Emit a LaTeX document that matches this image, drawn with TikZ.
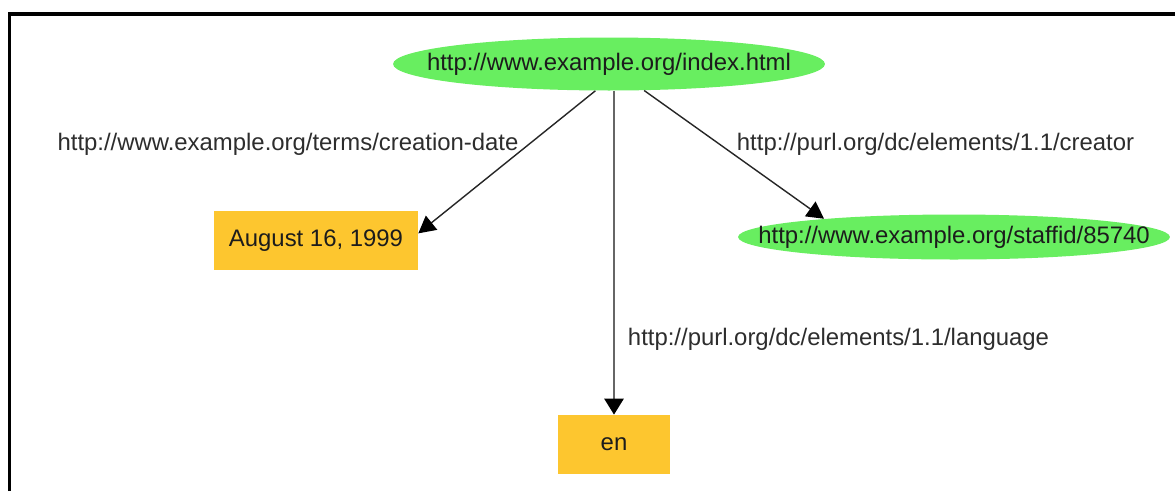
\documentclass[tikz,border=0pt]{standalone}
\usepackage{fontspec}
\setmainfont{Liberation Sans}
\usetikzlibrary{shapes.geometric,arrows.meta}
\definecolor{nodegreen}{RGB}{104,238,96}
\definecolor{lityellow}{RGB}{253,198,47}
\definecolor{inktext}{RGB}{28,28,28}
\definecolor{labeltext}{RGB}{45,45,45}
\begin{document}
\begin{tikzpicture}[
  x=0.02cm, y=-0.02cm,
  font=\fontsize{13.6pt}{16pt}\selectfont,
  resource/.style={ellipse, fill=nodegreen, inner sep=0pt, text=inktext},
  literal/.style={rectangle, fill=lityellow, inner sep=0pt,
                  minimum width=#1, minimum height=1.18cm, text=inktext},
  predlabel/.style={inner sep=0pt, anchor=base, text=labeltext},
  link/.style={draw=black!85, line width=0.8pt,
               -{Triangle[length=0.34cm,width=0.36cm,color=black]}},
  mainlink/.style={draw=black!60, line width=1.6pt,
               -{Triangle[length=0.32cm,width=0.38cm,color=black]}}
]
\useasboundingbox (0,0) rectangle (1175,491);
\fill[white] (0,0) rectangle (1175,491);

% frame along the top and left edges
\draw[line width=2.2pt] (9.5,491) -- (9.5,14) -- (1175,14);

% resources
\node[resource, minimum width=8.64cm, minimum height=1.06cm] (index) at (609,64)
  {\makebox[0pt]{http://www.example.org/index.html}};
\node[resource, minimum width=8.64cm, minimum height=0.9cm] (staff) at (954,237)
  {\makebox[0pt]{http://www.example.org/staffid/85740}};

% literals
\node[literal=4.08cm] (aug) at (316,240.5) {August 16, 1999};
\node[literal=2.24cm] (en) at (614,444.5) {en};

% properties
\draw[link] (index.-117) -- (aug.4);
\draw[mainlink] (index.south -| en.north) -- (en.north);
\draw[link] (index.-37) -- (staff.172);

% property names
\node[predlabel] (lcd) at (288,150) {http://www.example.org/terms/creation-date};
\node[predlabel] (lcr) at (935.5,150) {http://purl.org/dc/elements/1.1/creator};
\node[predlabel] (llang) at (838.5,345) {http://purl.org/dc/elements/1.1/language};
\end{tikzpicture}
\end{document}
